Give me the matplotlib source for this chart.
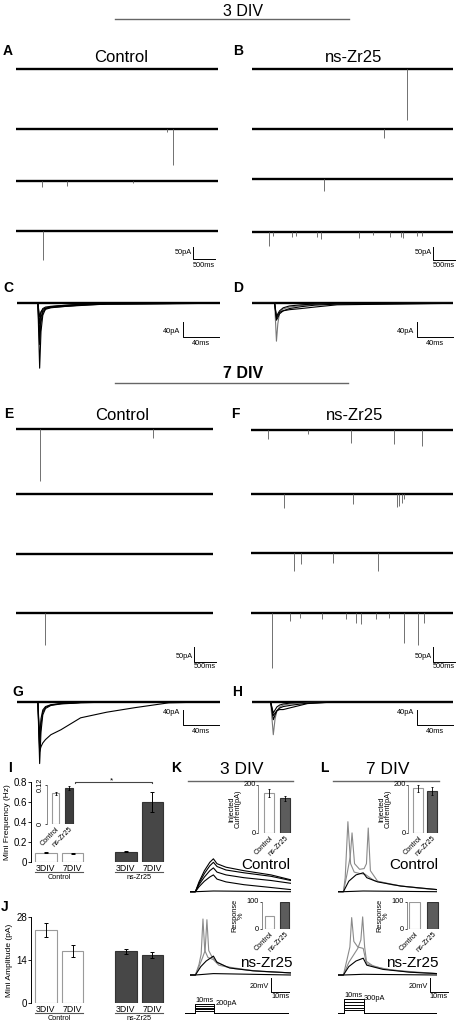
import numpy as np
import matplotlib
matplotlib.use("Agg")
import matplotlib.pyplot as plt

plt.rcParams["font.family"] = ["Liberation Sans", "DejaVu Sans"]

# ---------------- data ----------------
# spontaneous sweeps: (time ms, amplitude pA) of each inward event, one list per sweep
A_EVENTS = [[], [(3432, 12), (3561, 144)], [(591, 24), (1159, 20), (2659, 8)], [(614, 116)]]
B_EVENTS = [[(3523, 204)], [(3007, 36)], [(1650, 48)],
            [(393, 56), (484, 16), (909, 20), (1000, 16), (1484, 20), (1568, 28), (2439, 24),
             (2757, 12), (3143, 20), (3393, 20), (3432, 24), (3750, 16), (3864, 16)]]
E_EVENTS = [[(545, 208), (3107, 36)], [], [], [(659, 128)]]
F_EVENTS = [[(400, 36), (1309, 16), (2273, 52), (3264, 56), (3900, 64)],
            [(764, 56), (2332, 40), (3318, 52), (3377, 48), (3432, 36), (3491, 20)],
            [(984, 72), (1136, 44), (1877, 40), (2900, 72)],
            [(477, 220), (893, 30), (1120, 20), (1620, 25), (2166, 25), (2393, 40), (2507, 45),
             (2848, 25), (3143, 20), (3484, 120), (3802, 128), (3939, 40)]]

# superimposed single events (ms, pA)
C_T = [0, 23.5, 25.5, 27, 29, 32, 38, 50, 70, 100, 226]
C_I = [[0, 0, -173, -75, -32, -15, -9, -6, -3, -1, 0],
       [0, 0, -110, -50, -25, -16, -12, -9, -5, -2, 0],
       [0, 0, -80, -38, -20, -13, -10, -7, -4, -1, 0],
       [0, 0, -55, -25, -14, -10, -8, -6, -3, -1, 0],
       [0, 0, -36, -22, -16, -13, -11, -9, -6, -2, 0]]
D_T = [0, 25.5, 27.5, 29, 31, 35, 42, 55, 70, 95, 224]
D_I = [[0, 0, -101, -55, -25, -15, -10, -6, -3, -1, 0],
       [0, 0, -45, -38, -28, -20, -14, -9, -5, -2, 0],
       [0, 0, -40, -32, -24, -20, -17, -14, -10, -4, 0],
       [0, 0, -35, -28, -20, -12, -7, -4, -2, 0, 0]]
G_T = [0, 23.5, 25.5, 27, 29, 32, 38, 49, 71, 100, 131, 169, 226]
G_I = [[0, 0, -165, -80, -35, -18, -10, -6, -3, -1, 0, 0, 0],
       [0, 0, -120, -60, -28, -15, -9, -5, -2, 0, 0, 0, 0],
       [0, 0, -93, -45, -22, -13, -8, -5, -2, 0, 0, 0, 0],
       [0, 0, -133, -120, -110, -101, -88, -75, -43, -28, -16, -3, 0]]
H_T = [0, 21, 24, 26, 28, 31, 35, 45, 62, 90, 224]
H_I = [[0, 0, -88, -45, -25, -14, -9, -5, -2, 0, 0],
       [0, 0, -48, -35, -24, -17, -13, -9, -4, -1, 0],
       [0, 0, -37, -30, -24, -21, -21, -15, -5, -1, 0],
       [0, 0, -30, -22, -14, -9, -6, -3, -1, 0, 0]]

# bar charts
DIV_LABELS = ["3DIV", "7DIV", "3DIV", "7DIV"]
GROUPS = ["Control", "ns-Zr25"]
FREQ_MEAN = [0.095, 0.09, 0.105, 0.60]
FREQ_SEM = [0.006, 0.006, 0.005, 0.10]
FREQ_INSET_MEAN = [0.095, 0.11]
FREQ_INSET_SEM = [0.005, 0.006]
AMP_MEAN = [23.7, 16.9, 16.9, 15.6]
AMP_SEM = [2.2, 1.8, 0.8, 1.0]
K_INJ_MEAN = [166, 145]
K_INJ_SEM = [17, 10]
L_INJ_MEAN = [186, 176]
L_INJ_SEM = [14, 17]
K_RESP = [50, 100]
L_RESP = [100, 100]

# evoked voltage responses (ms, mV above rest)
K_CTRL = [[(0, 0), (3, 0), (5, 14), (8, 30), (11, 42), (13, 47), (15, 40), (20, 35), (30, 30), (45, 24), (56, 17)],
          [(0, 0), (3, 0), (5, 12), (8, 26), (11, 37), (13, 42), (15, 36), (20, 31), (30, 27), (45, 22), (56, 16)],
          [(0, 0), (3, 0), (5, 10), (8, 21), (11, 30), (13, 34), (15, 28), (20, 24), (30, 20), (45, 16), (56, 12)],
          [(0, 0), (3, 0), (5, 7), (8, 15), (11, 21), (13, 24), (15, 18), (20, 14), (30, 10), (45, 6), (56, 3)],
          [(0, 0), (3, 0), (13, 1), (56, 0)]]
K_NS = [[(0, 0), (3, 0), (5, 15), (6.2, 30), (7.2, 80), (8.2, 35), (10, 25), (13, 22), (16, 14), (25, 9), (40, 5), (56, 3)],
        [(0, 0), (3, 0), (5, 12), (7, 25), (8.4, 35), (9.4, 79), (10.4, 35), (12, 27), (14, 20), (20, 12), (35, 6), (56, 3)],
        [(0, 0), (3, 0), (6, 12), (9, 20), (13, 27), (15, 18), (22, 10), (35, 6), (56, 3)],
        [(0, 0), (3, 0), (13, 2), (56, 0)]]
L_CTRL = [[(0, 0), (3, 0), (4, 20), (5.5, 100), (7, 40), (9, 28), (12, 26), (15, 25), (20, 16), (30, 10), (45, 5), (55, 3)],
          [(0, 0), (3, 0), (5, 25), (6.8, 50), (7.8, 84), (9.2, 40), (12, 32), (14.5, 33), (15.8, 40), (16.8, 91), (18, 30), (22, 15), (35, 8), (55, 3)],
          [(0, 0), (3, 0), (6, 15), (10, 24), (14, 27), (16, 20), (22, 14), (35, 8), (55, 3)],
          [(0, 0), (3, 0), (14, 1), (55, 0)]]
L_NS = [[(0, 0), (3, 0), (5, 22), (6.6, 40), (7.6, 82), (8.8, 48), (11, 40), (14, 38), (15.5, 20), (20, 12), (30, 7), (55, 2)],
        [(0, 0), (3, 0), (6, 18), (9, 30), (11, 38), (12.7, 50), (13.7, 83), (14.8, 40), (16, 16), (25, 9), (40, 4), (55, 2)],
        [(0, 0), (3, 0), (6, 12), (10, 20), (14, 24), (16, 14), (25, 8), (40, 4), (55, 2)],
        [(0, 0), (3, 0), (14, 1), (55, 0)]]
K_STEPS = [40, 80, 120, 160, 200]
L_STEPS = [60, 120, 180, 240, 300]

# ---------------- layout ----------------
W, H = 461, 1025
fig = plt.figure(figsize=(W / 100, H / 100), dpi=100)
WHITE = "white"
DARK = "#474747"
DARK2 = "#5c5c5c"
EDGE = "#9a9a9a"
BASE_LW = 1.7


def px_axes(x0, y0, x1, y1):
    ax = fig.add_axes([x0 / W, 1 - y1 / H, (x1 - x0) / W, (y1 - y0) / H])
    ax.patch.set_alpha(0)
    return ax


canvas = px_axes(0, 0, W, H)
canvas.set_xlim(0, W)
canvas.set_ylim(H, 0)
canvas.axis("off")


def txt(x, y, s, size, **kw):
    canvas.text(x, y, s, fontsize=size, ha=kw.pop("ha", "center"), va=kw.pop("va", "center"), **kw)


# headings
txt(243, 11, "3 DIV", 11.5)
canvas.plot([115, 349], [19.3, 19.3], color="#666", lw=1)
txt(243, 373, "7 DIV", 11.5, fontweight="bold")
canvas.plot([115, 348], [383.3, 383.3], color="#666", lw=1)
for lab, x, y in [("A", 8, 51), ("B", 238, 51), ("C", 8, 288), ("D", 238, 288),
                  ("E", 8.5, 414), ("F", 235, 414), ("G", 18, 692), ("H", 237.5, 692),
                  ("I", 9.5, 768), ("J", 5, 907), ("K", 176, 768), ("L", 324, 768)]:
    txt(x, y, lab, 10, fontweight="bold")
for s, x, y in [("Control", 121, 57), ("ns-Zr25", 354, 57), ("Control", 121.7, 415), ("ns-Zr25", 355, 415)]:
    txt(x, y, s, 12)
txt(241.7, 770, "3 DIV", 12.5)
canvas.plot([188.3, 292.7], [781, 781], color="#666", lw=1)
txt(387.5, 770, "7 DIV", 12.5)
canvas.plot([333.3, 439.3], [781, 781], color="#666", lw=1)
for s, x, y in [("Control", 266, 865), ("ns-Zr25", 266, 963), ("Control", 413.5, 865), ("ns-Zr25", 412.5, 963)]:
    txt(x, y, s, 11)

SB = 5.3  # scale bar font size


def scale_bar(ax, t, y_top, y_bot, dt, vlab, hlab, dy_txt_v, dy_txt_h, dx_txt):
    ax.plot([t, t, t + dt], [y_top, y_bot, y_bot], color="black", lw=0.7, clip_on=False)
    ax.text(t - dx_txt, dy_txt_v, vlab, fontsize=SB, ha="right", va="center", clip_on=False)
    ax.text(t + dt / 2, dy_txt_h, hlab, fontsize=SB, ha="center", va="center", clip_on=False)


# ---------------- sweeps A, B, E, F ----------------
PX_MS = 0.044
PX_PA = 0.25


def sweep_panel(x0, ys, dur, events):
    axes = []
    for yb, ev in zip(ys, events):
        ax = px_axes(x0, yb - 8, x0 + dur * PX_MS, yb + 70)
        ax.set_xlim(0, dur)
        ax.set_ylim(-70 / PX_PA, 8 / PX_PA)
        ax.axis("off")
        ax.plot([0, dur], [0, 0], color="black", lw=BASE_LW, solid_capstyle="butt")
        if ev:
            t = [e[0] for e in ev]
            a = [-e[1] for e in ev]
            ax.vlines(t, 0, a, color="#707070", lw=0.7)
        axes.append(ax)
    return axes


ax_a = sweep_panel(16, [69.3, 129, 181, 231], 4600, A_EVENTS)
scale_bar(ax_a[-1], 4023, -63, -112, 500, "50pA", "500ms", -84, -136, 20)
ax_b = sweep_panel(251.7, [69.3, 129, 179.3, 231.7], 4570, B_EVENTS)
scale_bar(ax_b[-1], 4125, -63, -112, 500, "50pA", "500ms", -84, -136, 20)
ax_e = sweep_panel(16, [429, 494, 554, 613], 4480, E_EVENTS)
scale_bar(ax_e[-1], 4045, -136, -195, 500, "50pA", "500ms", -175, -212, 20)
ax_f = sweep_panel(250.7, [430, 494, 552.7, 613], 4590, F_EVENTS)
scale_bar(ax_f[-1], 4145, -136, -195, 500, "50pA", "500ms", -175, -212, 20)

# ---------------- superimposed events C, D, G, H ----------------
EV_PX_MS = 0.9
EV_PX_PA = 0.375


def event_panel(x0, yb, t_pts, traces, colors):
    dur = t_pts[-1]
    ax = px_axes(x0, yb - 8, x0 + dur * EV_PX_MS, yb + 70)
    ax.set_xlim(0, dur)
    ax.set_ylim(-70 / EV_PX_PA, 8 / EV_PX_PA)
    ax.axis("off")
    ax.plot([0, dur], [0, 0], color="black", lw=BASE_LW, solid_capstyle="butt")
    for tr, c in zip(traces, colors):
        ax.plot(t_pts, tr, color=c, lw=0.8)
    return ax


ax_c = event_panel(16.7, 303.3, C_T, C_I, ["black"] * 5)
scale_bar(ax_c, 184.4, -49, -89, 40, "40pA", "40ms", -75, -106, 3)
ax_d = event_panel(251.7, 303.3, D_T, D_I, ["#777", "black", "black", "black"])
scale_bar(ax_d, 184, -49, -89, 40, "40pA", "40ms", -75, -106, 3)
ax_g = event_panel(16.7, 701.7, G_T, G_I, ["black"] * 4)
scale_bar(ax_g, 184.4, -22, -62, 40, "40pA", "40ms", -28, -80, 3)
ax_h = event_panel(251.7, 701.7, H_T, H_I, ["#777", "black", "black", "black"])
scale_bar(ax_h, 184, -22, -62, 40, "40pA", "40ms", -28, -80, 3)

# ---------------- bar charts I, J ----------------
POS = [0, 1, 3, 4]
BAR_COLORS = [WHITE, WHITE, DARK, DARK]
BAR_EDGES = [EDGE, EDGE, "#333", "#333"]


def bar_panel(y_top, y_bot, means, sems, ymax, ticks, ticklabels, ylabel):
    ax = px_axes(31, y_top, 170, y_bot)
    ax.bar(POS, means, width=0.81, color=BAR_COLORS, edgecolor=BAR_EDGES, linewidth=0.8)
    ax.errorbar(POS, means, yerr=sems, fmt="none", ecolor="black", elinewidth=0.7, capsize=1.3, capthick=0.7)
    ax.set_xlim(-0.56, 4.66)
    ax.set_ylim(0, ymax)
    for s in ("top", "right", "bottom"):
        ax.spines[s].set_visible(False)
    ax.spines["left"].set_linewidth(0.7)
    ax.set_yticks(ticks, ticklabels, fontsize=7)
    ax.tick_params(axis="y", length=2, width=0.6, pad=1)
    ax.set_xticks(POS, DIV_LABELS, fontsize=6.3)
    ax.tick_params(axis="x", length=0, pad=1)
    h = y_bot - y_top
    tr = ax.get_xaxis_transform()
    for (a, b), g in zip([(-0.4, 1.4), (2.6, 4.4)], GROUPS):
        ax.plot([a, b], [-9.5 / h, -9.5 / h], color="#555", lw=0.8, transform=tr, clip_on=False)
        ax.text((a + b) / 2, -15.5 / h, g, fontsize=5.2, ha="center", va="center", transform=tr)
    ax.set_ylabel(ylabel, fontsize=6, labelpad=2)
    return ax


ax_i = bar_panel(781.7, 862.3, FREQ_MEAN, FREQ_SEM, 0.8, [0, 0.2, 0.4, 0.6, 0.8],
                 ["0", "0.2", "0.4", "0.6", "0.8"], "Mini Frequency (Hz)")
ax_i.plot([1.1, 1.1, 4.0, 4.0], [0.785, 0.8, 0.8, 0.785], color="#444", lw=0.8, clip_on=False)
ax_i.text(2.47, 0.805, "*", fontsize=6, ha="center", va="center")
ax_j = bar_panel(916.7, 1003.3, AMP_MEAN, AMP_SEM, 28, [0, 14, 28], ["0", "14", "28"], "Mini Amplitude (pA)")


def inset_bars(x0, y0, x1, y1, xlim, ymax, vals, errs, width, dark, ticklab, rot, ylabel=None):
    ax = px_axes(x0, y0, x1, y1)
    ax.bar([0, 1], vals, width=width, color=[WHITE, dark], edgecolor=[EDGE, "#333"], linewidth=0.8)
    if errs is not None:
        ax.errorbar([0, 1], vals, yerr=errs, fmt="none", ecolor="black", elinewidth=0.6, capsize=1, capthick=0.6)
    ax.set_xlim(*xlim)
    ax.set_ylim(0, ymax)
    for s in ("top", "right", "bottom"):
        ax.spines[s].set_visible(False)
    ax.spines["left"].set_linewidth(0.6)
    ax.spines["left"].set_color("#777")
    ax.set_yticks([0, ymax], ticklab, fontsize=5.3, rotation=rot, va="center")
    ax.tick_params(axis="y", length=1.5, width=0.5, pad=0.5)
    ax.set_xticks([0, 1], GROUPS, fontsize=5.3, rotation=45, ha="right", rotation_mode="anchor")
    ax.tick_params(axis="x", length=0, pad=1)
    if ylabel:
        ax.set_ylabel(ylabel, fontsize=5.3, labelpad=1, linespacing=0.9)
    return ax


inset_bars(46.7, 785, 77, 824.3, (-0.67, 1.6), 0.12, FREQ_INSET_MEAN, FREQ_INSET_SEM, 0.57, "#3d3d3d",
           ["0", "0.12"], 90)
inset_bars(258.3, 785, 295, 833.3, (-0.69, 1.63), 200, K_INJ_MEAN, K_INJ_SEM, 0.62, DARK2,
           ["0", "200"], 0, "Injected\nCurrent(pA)")
inset_bars(408.3, 785, 441, 833.3, (-0.75, 1.7), 200, L_INJ_MEAN, L_INJ_SEM, 0.75, DARK2,
           ["0", "200"], 0, "Injected\nCurrent(pA)")
inset_bars(261.7, 901.7, 294, 929.3, (-0.54, 1.6), 100, K_RESP, None, 0.6, DARK2,
           ["0", "100"], 0, "Response\n%")
inset_bars(406.7, 901.7, 440, 929.3, (-0.45, 1.4), 100, L_RESP, None, 0.6, DARK2,
           ["0", "100"], 0, "Response\n%")

# ---------------- evoked responses K, L ----------------
V_PX_MS = 1.8
V_PX_MV = 0.7


def volt_panel(x0, yb, traces, dur):
    ax = px_axes(x0, yb - 75, x0 + dur * V_PX_MS, yb + 8)
    ax.set_xlim(0, dur)
    ax.set_ylim(-8 / V_PX_MV, 75 / V_PX_MV)
    ax.axis("off")
    for tr in traces:
        t = [p[0] for p in tr]
        v = [p[1] for p in tr]
        col = "#8a8a8a" if max(v) > 60 else "black"
        ax.plot(t, v, color=col, lw=0.8)
    return ax


volt_panel(190, 891.7, K_CTRL, 56)
ax_kn = volt_panel(190, 975, K_NS, 56)
scale_bar(ax_kn, 45, -4.3, -24.3, 10, "20mV", "10ms", -16.7, -31, 1)
volt_panel(338, 891.7, L_CTRL, 55)
ax_ln = volt_panel(338, 975, L_NS, 55)
scale_bar(ax_ln, 51.1, -4.3, -24.3, 10, "20mV", "10ms", -16.7, -31, 1)

ST_PX_PA = 0.048


def stim_panel(x0, t_end, steps, t_on, t_off, dur_lab, amp_lab, lab_y, amp_x):
    yb = 1013.3
    ax = px_axes(x0, yb - 20, x0 + t_end * V_PX_MS, yb + 3)
    ax.set_xlim(0, t_end)
    ax.set_ylim(-3 / ST_PX_PA, 20 / ST_PX_PA)
    ax.axis("off")
    for lvl in steps:
        ax.plot([0, t_on, t_on, t_off, t_off, t_end], [0, 0, lvl, lvl, 0, 0], color="black", lw=0.7)
    ax.text((t_on + t_off) / 2, lab_y, dur_lab, fontsize=SB, ha="center", va="center")
    ax.text(amp_x, steps[-1] + 10, amp_lab, fontsize=SB, ha="left", va="center")


stim_panel(185, 57.5, K_STEPS, 5.3, 16, "10ms", "200pA", 277, 17.2)
stim_panel(338, 55, L_STEPS, 3.3, 14.4, "10ms", "300pA", 381, 14)

fig.savefig("out.png", dpi=100)
